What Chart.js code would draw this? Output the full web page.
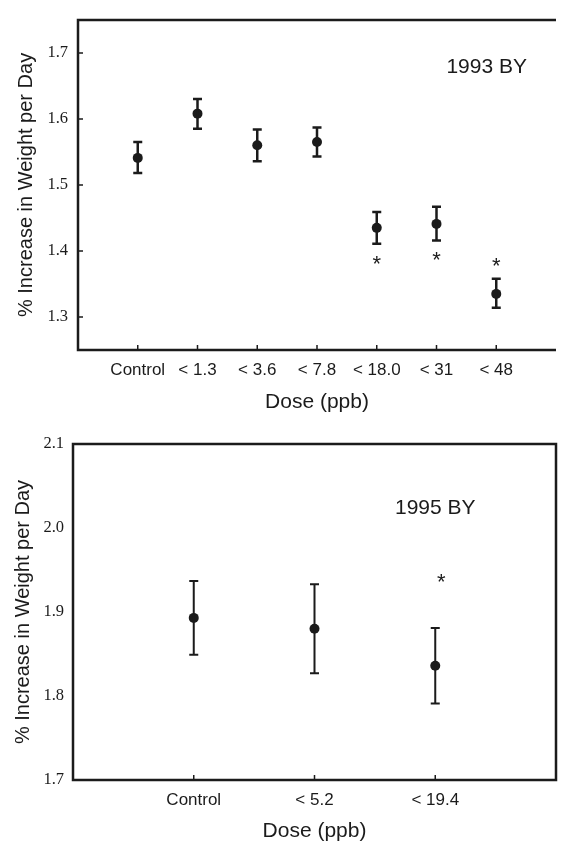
<!DOCTYPE html>
<html>
<head>
<meta charset="utf-8">
<script src="https://cdn.jsdelivr.net/npm/chart.js@4.4.0/dist/chart.umd.min.js"></script>
<style>
  body { margin: 0; background: #fff; }
  .box { position: absolute; left: 0; width: 561px; }
</style>
</head>
<body>
<div class="box" style="top:0;height:420px"><canvas id="c1"></canvas></div>
<div class="box" style="top:420px;height:422px"><canvas id="c2"></canvas></div>
<script>
// 1993 BY
const doses93 = ['Control', '< 1.3', '< 3.6', '< 7.8', '< 18.0', '< 31', '< 48'];
const mean93 = [1.541, 1.608, 1.560, 1.565, 1.435, 1.441, 1.335];
const upper93 = [1.565, 1.630, 1.584, 1.587, 1.459, 1.467, 1.358];
const lower93 = [1.518, 1.585, 1.536, 1.543, 1.411, 1.416, 1.314];
const starX93 = [5, 6, 7];
const starY93 = [1.387, 1.393, 1.384];
const yTicks93 = [1.3, 1.4, 1.5, 1.6, 1.7];

// 1995 BY
const doses95 = ['Control', '< 5.2', '< 19.4'];
const mean95 = [1.893, 1.880, 1.836];
const upper95 = [1.937, 1.933, 1.881];
const lower95 = [1.849, 1.827, 1.791];
const starX95 = [3.05];
const starY95 = [1.941];
const yTicks95 = [1.7, 1.8, 1.9, 2.0, 2.1];

const ink = '#1b1b1b';
const sans = '"Liberation Sans", Arial, sans-serif';
const serif = '"Liberation Serif", "Times New Roman", serif';
const yTitle = '% Increase in Weight per Day';

// error bars, asterisks, label, inward ticks and the frame
function extras(d) {
  return {
    id: 'extras',
    afterDraw(chart) {
      const { ctx, chartArea: a, scales: { x, y } } = chart;
      ctx.save();
      ctx.strokeStyle = ink;
      ctx.fillStyle = ink;

      ctx.lineWidth = d.barW;
      d.mean.forEach((m, i) => {
        const px = x.getPixelForValue(i + 1);
        const t = y.getPixelForValue(d.upper[i]);
        const b = y.getPixelForValue(d.lower[i]);
        ctx.beginPath();
        ctx.moveTo(px, t); ctx.lineTo(px, b);
        ctx.moveTo(px - 4.5, t); ctx.lineTo(px + 4.5, t);
        ctx.moveTo(px - 4.5, b); ctx.lineTo(px + 4.5, b);
        ctx.stroke();
      });

      ctx.font = '22px ' + sans;
      ctx.textAlign = 'center';
      ctx.textBaseline = 'middle';
      d.starX.forEach((sx, i) => {
        ctx.fillText('*', x.getPixelForValue(sx), y.getPixelForValue(d.starY[i]) + 5);
      });

      ctx.font = '21px ' + sans;
      ctx.fillText(d.label, x.getPixelForValue(d.labelAt[0]), y.getPixelForValue(d.labelAt[1]));

      ctx.lineWidth = 1.5;
      ctx.beginPath();
      x.ticks.forEach(t => {
        const px = x.getPixelForValue(t.value);
        ctx.moveTo(px, a.bottom); ctx.lineTo(px, a.bottom - 5);
      });
      if (d.yInTicks) {
        y.ticks.forEach(t => {
          const py = y.getPixelForValue(t.value);
          ctx.moveTo(a.left, py); ctx.lineTo(a.left + 5, py);
        });
      }
      ctx.stroke();

      ctx.lineWidth = 2.5;
      ctx.beginPath();
      if (d.closed) {
        ctx.rect(a.left, a.top, a.right - a.left, a.bottom - a.top);
      } else {
        ctx.moveTo(a.right, a.top); ctx.lineTo(a.left, a.top);
        ctx.lineTo(a.left, a.bottom); ctx.lineTo(a.right, a.bottom);
      }
      ctx.stroke();
      ctx.restore();
    }
  };
}

function makeChart(id, d) {
  return new Chart(document.getElementById(id), {
    type: 'scatter',
    data: {
      datasets: [{
        data: d.mean.map((v, i) => ({ x: i + 1, y: v })),
        pointRadius: 5,
        pointHoverRadius: 5,
        backgroundColor: ink,
        borderWidth: 0,
        clip: false
      }]
    },
    options: {
      responsive: true,
      maintainAspectRatio: false,
      animation: false,
      layout: { padding: { top: d.padTop, right: d.padRight, left: 0, bottom: 0 } },
      plugins: { legend: { display: false }, tooltip: { enabled: false } },
      scales: {
        x: {
          type: 'linear', min: 0, max: d.xMax,
          grid: { display: false, drawTicks: false },
          border: { display: false },
          afterBuildTicks: s => { s.ticks = d.cats.map((c, i) => ({ value: i + 1 })); },
          afterFit: s => { s.height = d.xH; },
          ticks: {
            callback: v => d.cats[v - 1],
            font: { family: sans, size: 17 }, color: ink,
            padding: 10, maxRotation: 0, autoSkip: false
          },
          title: {
            display: true, text: 'Dose (ppb)', color: ink,
            font: { family: sans, size: 21, lineHeight: 1 },
            padding: { bottom: d.xTitlePad, top: 0 }
          }
        },
        y: {
          min: d.yMin, max: d.yMax,
          grid: { display: false, drawTicks: false },
          border: { display: false },
          afterBuildTicks: s => { s.ticks = d.yTicks.map(v => ({ value: v })); },
          afterFit: s => { s.width = d.yW; },
          ticks: {
            callback: v => v.toFixed(1),
            font: { family: serif, size: 16.5 }, color: ink,
            padding: d.yPad
          },
          title: {
            display: true, text: yTitle, color: ink,
            font: { family: sans, size: 20, lineHeight: 1 },
            padding: { top: d.yTitlePad, bottom: 0 }
          }
        }
      }
    },
    plugins: [extras(d)]
  });
}

makeChart('c1', {
  cats: doses93, mean: mean93, upper: upper93, lower: lower93,
  starX: starX93, starY: starY93, yTicks: yTicks93,
  yMin: 1.25, yMax: 1.75, xMax: 8,
  padTop: 10, padRight: 0, xH: 70, yW: 78, yPad: 10,
  xTitlePad: 7, yTitlePad: 16, barW: 2.5,
  label: '1993 BY', labelAt: [6.84, 1.678],
  yInTicks: true, closed: false
});

makeChart('c2', {
  cats: doses95, mean: mean95, upper: upper95, lower: lower95,
  starX: starX95, starY: starY95, yTicks: yTicks95,
  yMin: 1.7, yMax: 2.1, xMax: 4,
  padTop: 24, padRight: 5, xH: 62, yW: 73, yPad: 9,
  xTitlePad: 0, yTitlePad: 13, barW: 2,
  label: '1995 BY', labelAt: [3.0, 2.024],
  yInTicks: false, closed: true
});
</script>
</body>
</html>
